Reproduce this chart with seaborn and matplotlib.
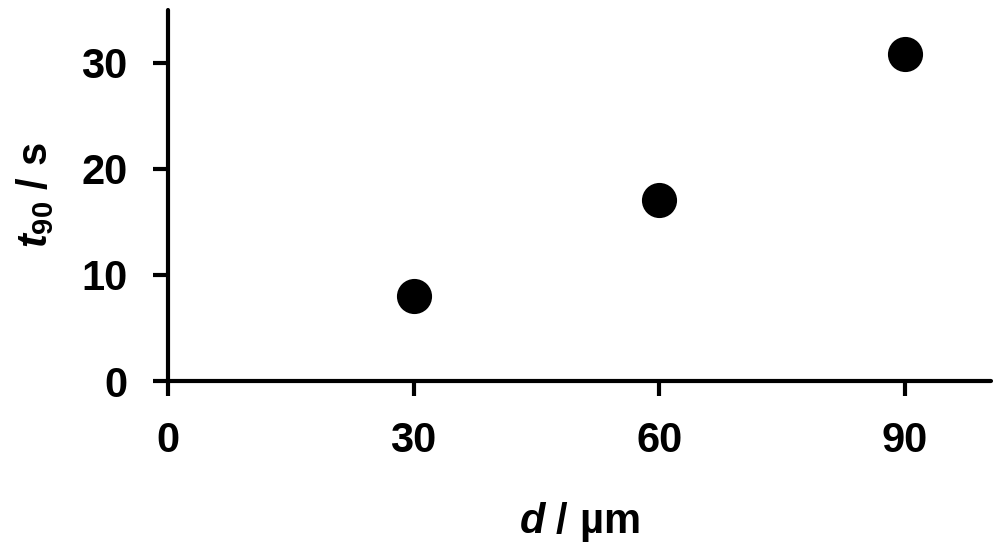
import matplotlib
matplotlib.use('Agg')
import pandas as pd
import matplotlib.pyplot as plt
import seaborn as sns

# datos
d_um = [30, 60, 90]
t90_s = [8.0, 17.1, 30.8]
x_ticks = [0, 30, 60, 90]
y_ticks = [0, 10, 20, 30]

df = pd.DataFrame({'d': d_um, 't90': t90_s})

sns.set_style('ticks')
plt.rcParams['font.family'] = ['Liberation Sans', 'DejaVu Sans']
plt.rcParams['font.weight'] = 'bold'
plt.rcParams['mathtext.fontset'] = 'custom'
plt.rcParams['mathtext.rm'] = 'Liberation Sans:bold'
plt.rcParams['mathtext.bf'] = 'Liberation Sans:bold'
plt.rcParams['mathtext.it'] = 'Liberation Sans:bold:italic'
for key in ['text.color', 'axes.labelcolor', 'axes.edgecolor', 'xtick.color', 'ytick.color']:
    plt.rcParams[key] = 'black'

fig = plt.figure(figsize=(10, 5.53), dpi=100)
ax = fig.add_axes([0.168, 0.311, 0.823, 0.671])

sns.scatterplot(data=df, x='d', y='t90', ax=ax, s=640, color='black',
                edgecolor='black', linewidth=0, legend=False, clip_on=False)

ax.set_xlim(0, 100.5)
ax.set_ylim(0, 35)
ax.set_xticks(x_ticks)
ax.set_yticks(y_ticks)
ax.tick_params(direction='out', length=11, width=3, labelsize=30, pad=18)
for lab in ax.get_xticklabels() + ax.get_yticklabels():
    lab.set_fontweight('bold')

for side in ['top', 'right']:
    ax.spines[side].set_visible(False)
for side in ['left', 'bottom']:
    ax.spines[side].set_linewidth(3)
    ax.spines[side].set_capstyle('round')

ax.set_xlabel(r'$\mathit{d}$ / µm', fontsize=30, fontweight='bold', labelpad=28)
ax.set_ylabel(r'$\mathit{t}_{\mathrm{90}}$ / s', fontsize=30, fontweight='bold', labelpad=18)

fig.savefig('out.png', dpi=100)
